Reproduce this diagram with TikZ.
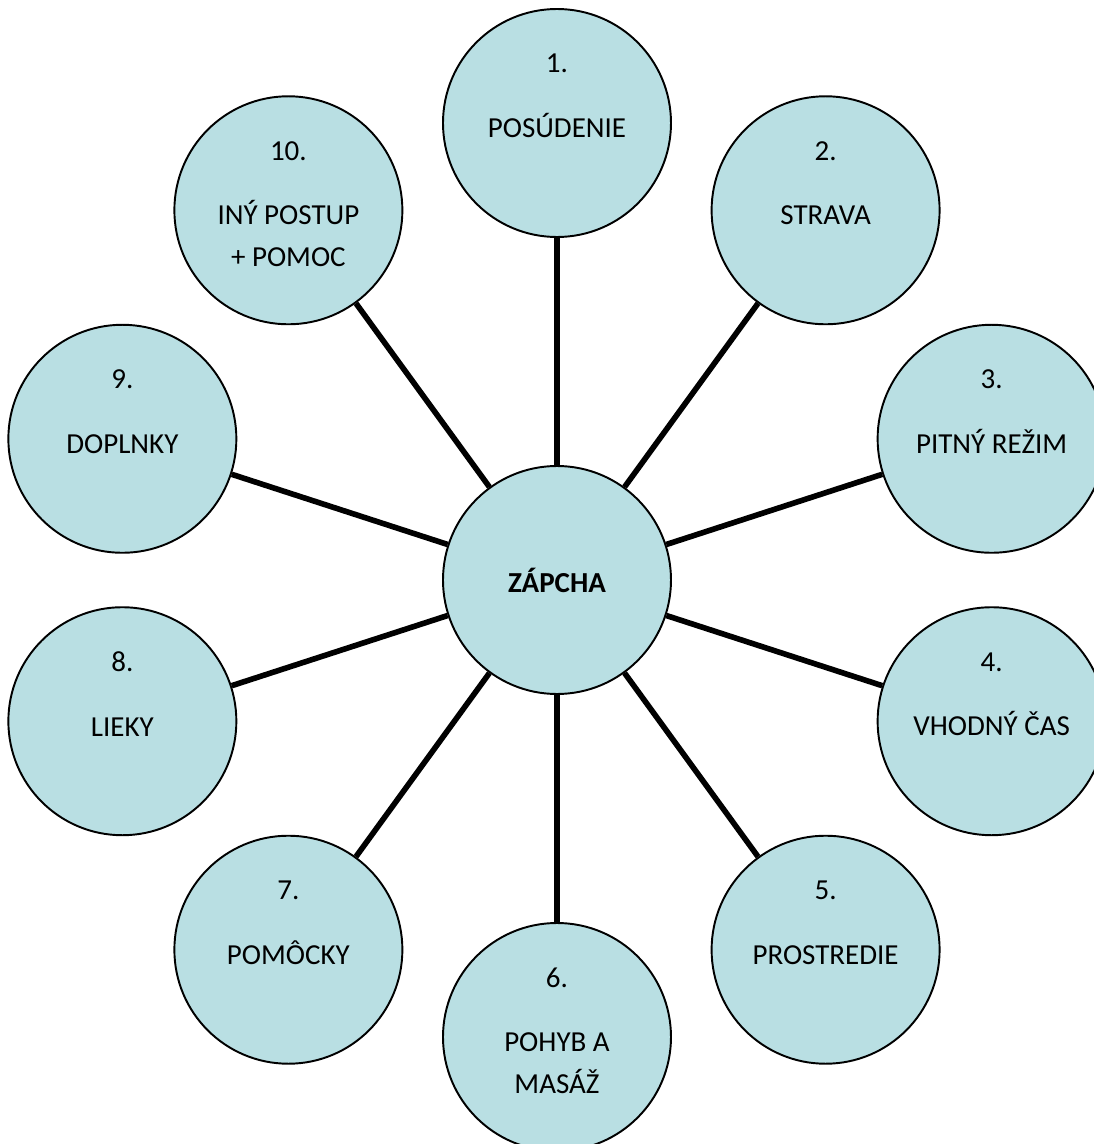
\documentclass[tikz,border=0pt]{standalone}
\usepackage{fontspec}
\setmainfont{Carlito}
\usetikzlibrary{positioning}
\definecolor{bubble}{RGB}{185,223,227}

\begin{document}
\begin{tikzpicture}[
		topic/.style={draw,circle,fill=bubble,line width=1.1pt,minimum size=4.56cm,inner sep=0pt,align=center,font=\fontsize{16.5}{23.8}\selectfont},
		spoke/.style={line width=3.2pt}
		]
		
		% Page frame
		\useasboundingbox (-11.14,-11.28) rectangle (10.74,11.6);
		
		% Middle
		\node[topic,font=\fontsize{16.5}{23.8}\selectfont\bfseries] (zapcha) at (0,0) {ZÁPCHA};
		
		% Outer circles
		\node[topic] (posudenie) at (90:9.14) {1.\\[13pt]POSÚDENIE\\\strut};
		\node[topic] (strava) at (54:9.14) {2.\\[13pt]STRAVA\\\strut};
		\node[topic] (pitny) at (18:9.14) {3.\\[13pt]PITNÝ REŽIM\\\strut};
		\node[topic] (vhodny) at (-18:9.14) {4.\\[13pt]VHODNÝ ČAS\\\strut};
		\node[topic] (prostredie) at (-54:9.14) {5.\\[13pt]PROSTREDIE\\\strut};
		\node[topic] (pohyb) at (-90:9.14) {6.\\[13pt]POHYB A\\MASÁŽ\strut};
		\node[topic] (pomocky) at (-126:9.14) {7.\\[13pt]POMÔCKY\\\strut};
		\node[topic] (lieky) at (-162:9.14) {8.\\[13pt]LIEKY\\\strut};
		\node[topic] (doplnky) at (162:9.14) {9.\\[13pt]DOPLNKY\\\strut};
		\node[topic] (iny) at (126:9.14) {10.\\[13pt]INÝ POSTUP\\+ POMOC\strut};
		
		% Spokes
		\draw[spoke] (zapcha) -- (posudenie);
		\draw[spoke] (zapcha) -- (strava);
		\draw[spoke] (zapcha) -- (pitny);
		\draw[spoke] (zapcha) -- (vhodny);
		\draw[spoke] (zapcha) -- (prostredie);
		\draw[spoke] (zapcha) -- (pohyb);
		\draw[spoke] (zapcha) -- (pomocky);
		\draw[spoke] (zapcha) -- (lieky);
		\draw[spoke] (zapcha) -- (doplnky);
		\draw[spoke] (zapcha) -- (iny);
		
	\end{tikzpicture}
\end{document}
